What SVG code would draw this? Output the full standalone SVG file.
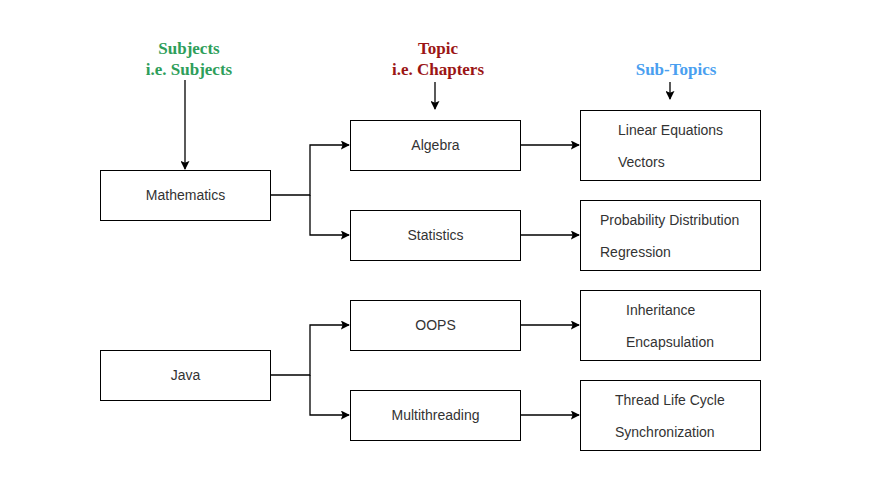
<svg xmlns="http://www.w3.org/2000/svg" width="871" height="502" viewBox="0 0 871 502">
<style>
.box{fill:#fff;stroke:#000;stroke-width:1}
.t{font-family:"Liberation Sans",Arial,sans-serif;font-size:14px;fill:#333}
.c{text-anchor:middle}
.h{font-family:"Liberation Serif","Times New Roman",serif;font-size:17px;font-weight:bold;text-anchor:middle}
.ln{fill:none;stroke:#000;stroke-width:1.3}
</style>
<defs>
<marker id="ah" viewBox="0 0 10 10" refX="9" refY="5" markerWidth="9" markerHeight="9" markerUnits="userSpaceOnUse" orient="auto">
<path d="M0,0 L10,5 L0,10 L2,5 Z" fill="#000"/>
</marker>
</defs>
<rect width="871" height="502" fill="#fff"/>
<g id="headers">
<text class="h" x="189" y="54" fill="#2e9e5a">Subjects</text>
<text class="h" x="189" y="75" fill="#2e9e5a">i.e. Subjects</text>
<text class="h" x="438" y="54" fill="#9b1515">Topic</text>
<text class="h" x="438" y="75" fill="#9b1515">i.e. Chapters</text>
<text class="h" x="676" y="75" fill="#4a9ff0">Sub-Topics</text>
</g>
<g id="connectors">
<path class="ln" d="M185,80 V169" marker-end="url(#ah)"/>
<path class="ln" d="M435,82 V109" marker-end="url(#ah)"/>
<path class="ln" d="M670,82 V99" marker-end="url(#ah)"/>
<path class="ln" d="M270,195 H310 V145 H349" marker-end="url(#ah)"/>
<path class="ln" d="M310,195 V235 H349" marker-end="url(#ah)"/>
<path class="ln" d="M270,375 H310 V325 H349" marker-end="url(#ah)"/>
<path class="ln" d="M310,375 V415 H349" marker-end="url(#ah)"/>
<path class="ln" d="M520,145 H579" marker-end="url(#ah)"/>
<path class="ln" d="M520,235 H579" marker-end="url(#ah)"/>
<path class="ln" d="M520,325 H579" marker-end="url(#ah)"/>
<path class="ln" d="M520,415 H579" marker-end="url(#ah)"/>
</g>
<g id="mathematics"><rect class="box" x="100.5" y="170.5" width="170" height="50"/><text class="t c" x="185.5" y="200">Mathematics</text></g>
<g id="java"><rect class="box" x="100.5" y="350.5" width="170" height="50"/><text class="t c" x="185.5" y="380">Java</text></g>
<g id="algebra"><rect class="box" x="350.5" y="120.5" width="170" height="50"/><text class="t c" x="435.5" y="150">Algebra</text></g>
<g id="statistics"><rect class="box" x="350.5" y="210.5" width="170" height="50"/><text class="t c" x="435.5" y="240">Statistics</text></g>
<g id="oops"><rect class="box" x="350.5" y="300.5" width="170" height="50"/><text class="t c" x="435.5" y="330">OOPS</text></g>
<g id="multithreading"><rect class="box" x="350.5" y="390.5" width="170" height="50"/><text class="t c" x="435.5" y="420">Multithreading</text></g>
<g id="algebra-subtopics"><rect class="box" x="580.5" y="110.5" width="180" height="70"/><text class="t" x="618" y="135">Linear Equations</text><text class="t" x="618" y="167">Vectors</text></g>
<g id="statistics-subtopics"><rect class="box" x="580.5" y="200.5" width="180" height="70"/><text class="t" x="600" y="225">Probability Distribution</text><text class="t" x="600" y="257">Regression</text></g>
<g id="oops-subtopics"><rect class="box" x="580.5" y="290.5" width="180" height="70"/><text class="t" x="626" y="315">Inheritance</text><text class="t" x="626" y="347">Encapsulation</text></g>
<g id="multithreading-subtopics"><rect class="box" x="580.5" y="380.5" width="180" height="70"/><text class="t" x="615" y="405">Thread Life Cycle</text><text class="t" x="615" y="437">Synchronization</text></g>
</svg>
